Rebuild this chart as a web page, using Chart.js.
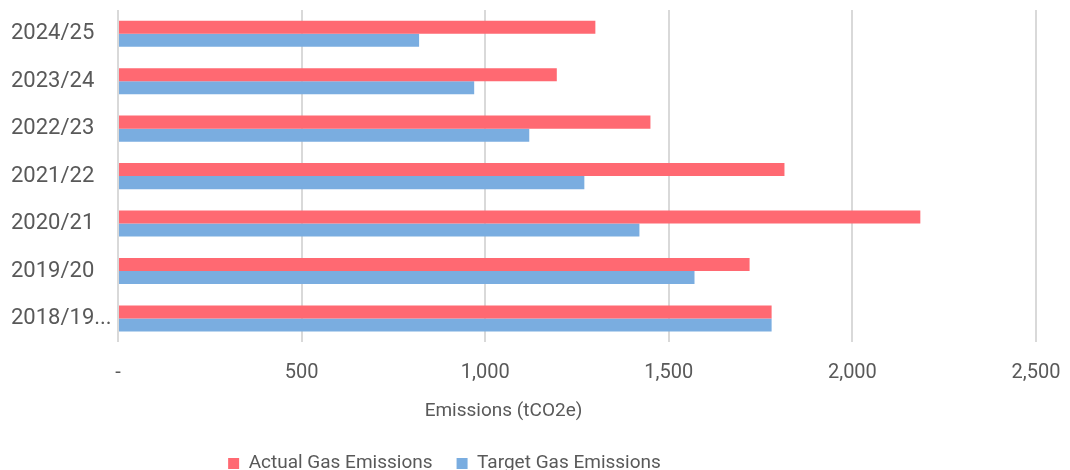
<!DOCTYPE html>
<html>
<head>
<meta charset="utf-8">
<script src="https://cdn.jsdelivr.net/npm/chart.js@4"></script>
<style>
  html, body { margin: 0; padding: 0; background: #fff; overflow: hidden; }
  #wrap { width: 1070px; height: 483px; position: relative; }
</style>
</head>
<body>
<div id="wrap"><canvas id="gasChart"></canvas></div>
<script>
// Years listed top to bottom as they appear in the chart
const years = ['2024/25', '2023/24', '2022/23', '2021/22', '2020/21', '2019/20', '2018/19...'];
const actualGas = [1300, 1195, 1450, 1815, 2185, 1720, 1780];
const targetGas = [820, 970, 1120, 1270, 1420, 1570, 1780];
const xTicks = [0, 500, 1000, 1500, 2000, 2500];

const textColor = '#595959';

// Excel puts the legend and axis title a bit left of centre, nudge them over
const shiftBottom = {
    id: 'shiftBottom',
    afterLayout(chart) {
        chart.legend.left -= 79;
        chart.legend.right -= 79;
        chart.titleBlock.left -= 20;
        chart.titleBlock.right -= 20;
    }
};

const ctx = document.getElementById('gasChart').getContext('2d');
new Chart(ctx, {
    type: 'bar',
    data: {
        labels: years,
        datasets: [{
            label: 'Actual Gas Emissions',
            data: actualGas,
            backgroundColor: '#ff6972',
            categoryPercentage: 0.55,
            barPercentage: 1.0
        }, {
            label: 'Target Gas Emissions',
            data: targetGas,
            backgroundColor: '#7aade0',
            categoryPercentage: 0.55,
            barPercentage: 1.0
        }]
    },
    options: {
        indexAxis: 'y',
        responsive: true,
        maintainAspectRatio: false,
        animation: false,
        layout: { padding: { top: 10, left: 11, right: 34, bottom: 0 } },
        plugins: {
            legend: {
                position: 'bottom',
                labels: {
                    boxWidth: 11,
                    boxHeight: 11,
                    padding: 24,
                    color: textColor,
                    font: { family: 'Roboto', size: 19 }
                }
            },
            title: {
                display: true,
                position: 'bottom',
                weight: 500,
                text: 'Emissions (tCO2e)',
                color: textColor,
                font: { family: 'Roboto', size: 19, weight: 'normal' },
                padding: { top: 8, bottom: 7 }
            },
            tooltip: { enabled: false }
        },
        scales: {
            x: {
                min: 0,
                max: 2500,
                afterBuildTicks: (scale) => {
                    scale.ticks = xTicks.map(v => ({ value: v }));
                },
                afterFit: (scale) => {
                    scale.height -= 12;
                    scale.paddingLeft = 0;
                    scale.paddingRight = 0;
                },
                ticks: {
                    color: textColor,
                    padding: 19,
                    font: { family: 'Roboto', size: 20 },
                    callback: (v) => v === 0 ? '-' : v.toLocaleString('en-US')
                },
                grid: { color: '#d9d9d9', lineWidth: 2, drawTicks: false },
                border: { display: false }
            },
            y: {
                afterFit: (scale) => {
                    scale.width = 107;
                    scale.paddingTop = 0;
                    scale.paddingBottom = 0;
                },
                ticks: {
                    color: textColor,
                    crossAlign: 'far',
                    font: { family: 'Roboto', size: 22 }
                },
                grid: { display: false },
                border: { display: false }
            }
        }
    },
    plugins: [shiftBottom]
});
</script>
</body>
</html>
